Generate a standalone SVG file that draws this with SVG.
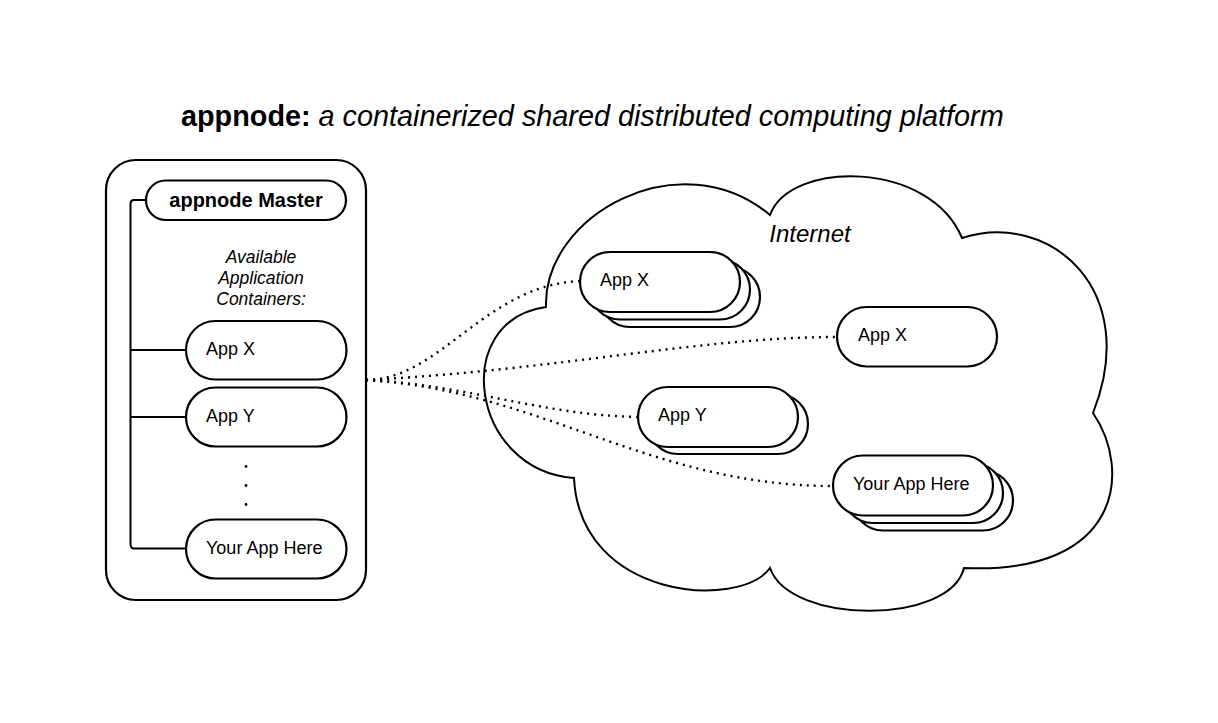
<svg xmlns="http://www.w3.org/2000/svg" width="1218" height="723" viewBox="0 0 1218 723">
<style>
.pill{fill:#fff;stroke:#000;stroke-width:2.2}
.box{fill:#fff;stroke:#000;stroke-width:2.2}
.cloud{fill:#fff;stroke:#000;stroke-width:2}
.bracket{fill:none;stroke:#000;stroke-width:2}
.dot{fill:none;stroke:#000;stroke-width:2.4;stroke-dasharray:2 5}
.t{font-family:"Liberation Sans",Arial,sans-serif;font-size:18px;fill:#000}
.it{font-style:italic}
.b{font-weight:bold}
</style>
<rect width="1218" height="723" fill="#fff"/>
<g id="title">
<text x="181" y="126" class="t" style="font-size:28.8px"><tspan class="b">appnode:</tspan><tspan class="it"> a containerized shared distributed computing platform</tspan></text>
</g>
<g id="master-panel">
<rect class="box" x="106" y="160" width="260" height="440" rx="30" ry="30"/>
</g>
<g id="cloud">
<path class="cloud" d="M 546 307 C 543 215, 680 140, 770 215 C 790 160, 930 160, 962 238 C 1050 210, 1142 290, 1093 413 C 1132 470, 1122 575, 964 568 C 950 625, 790 625, 770 568 C 740 610, 580 600, 574 478 C 470 470, 450 320, 546 307 Z"/>
<text x="810" y="242" class="t it" text-anchor="middle" style="font-size:24px">Internet</text>
</g>
<g id="connectors">
<path class="bracket" d="M 146 200 H 134 Q 130.5 200 130.5 204 V 544 Q 130.5 548.5 134 548.5 H 186 M 130.5 350 H 186 M 130.5 417 H 186"/>
<path class="dot" d="M 366 380 C 440 380, 485 285, 580 281"/>
<path class="dot" d="M 366 380 C 560 370, 700 337, 837 337"/>
<path class="dot" d="M 366 380 C 470 385, 540 415, 638 417"/>
<path class="dot" d="M 366 380 C 540 390, 650 486, 833 486"/>
</g>
<g id="appnode-master">
<rect class="pill" x="146" y="180.5" width="200" height="39.5" rx="19.75"/>
<text x="246" y="206.5" class="t b" text-anchor="middle" style="font-size:20px">appnode Master</text>
</g>
<g id="available-label">
<text class="t it" text-anchor="middle" style="font-size:17.5px"><tspan x="261" y="263">Available</tspan><tspan x="261" y="284">Application</tspan><tspan x="261" y="305">Containers:</tspan></text>
</g>
<g id="left-app-x">
<rect class="pill" x="186" y="321" width="160.5" height="58.5" rx="29.25"/>
<text x="206" y="355" class="t">App X</text>
</g>
<g id="left-app-y">
<rect class="pill" x="186" y="387.5" width="160.5" height="59" rx="29.5"/>
<text x="206" y="422" class="t">App Y</text>
</g>
<g id="ellipsis">
<circle cx="246" cy="466.5" r="1.4" fill="#000"/>
<circle cx="246" cy="485.5" r="1.4" fill="#000"/>
<circle cx="246" cy="504.5" r="1.4" fill="#000"/>
</g>
<g id="left-your-app">
<rect class="pill" x="186" y="519.5" width="160.5" height="59" rx="29.5"/>
<text x="206" y="554" class="t">Your App Here</text>
</g>
<g id="cloud-app-x-stack">
<rect class="pill" x="600" y="267" width="160" height="60" rx="30"/>
<rect class="pill" x="590" y="259.5" width="160" height="60" rx="30"/>
<rect class="pill" x="580" y="252" width="160" height="60" rx="30"/>
<text x="600" y="286" class="t">App X</text>
</g>
<g id="cloud-app-x">
<rect class="pill" x="837" y="307" width="160" height="59.5" rx="29.75"/>
<text x="858" y="341" class="t">App X</text>
</g>
<g id="cloud-app-y-stack">
<rect class="pill" x="648" y="394" width="160" height="60" rx="30"/>
<rect class="pill" x="638" y="387" width="160" height="60" rx="30"/>
<text x="658" y="421" class="t">App Y</text>
</g>
<g id="cloud-your-app-stack">
<rect class="pill" x="853" y="470.5" width="160" height="60" rx="30"/>
<rect class="pill" x="843" y="463" width="160" height="60" rx="30"/>
<rect class="pill" x="833" y="455.5" width="160" height="60" rx="30"/>
<text x="853" y="490" class="t">Your App Here</text>
</g>
</svg>
